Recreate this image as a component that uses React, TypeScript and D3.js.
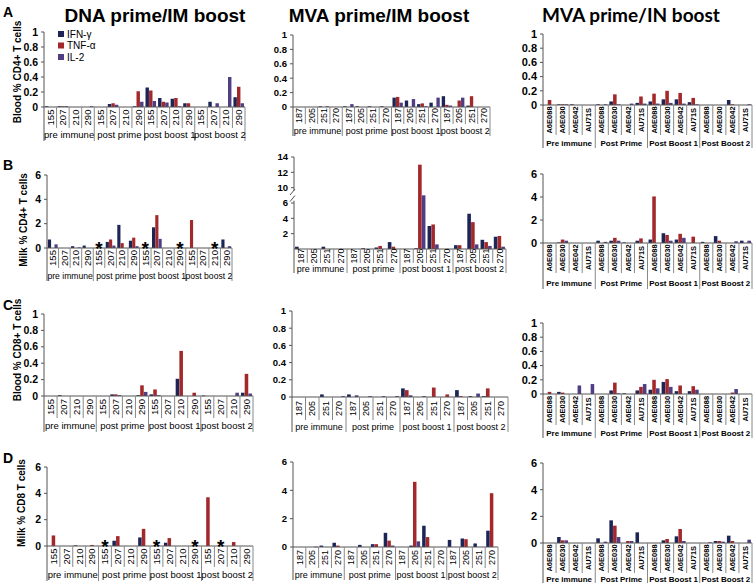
import React from 'react'
import * as d3 from 'd3'

// cytokine series, in bar order inside each animal
const cytokines = ['IFN-γ', 'TNF-α', 'IL-2']
const colors = ['#1c2555', '#a3282b', '#4f3e84']

const dnaAnimals = ['155', '207', '210', '290']
const mvaAnimals = ['187', '205', '251', '270']
const inAnimals = ['A6E088', 'A6E030', 'A6E042', 'AU71S']
const timepoints = ['pre immune', 'post prime', 'post boost 1', 'post boost 2']
const timepointsCap = ['Pre immune', 'Post Prime', 'Post Boost 1', 'Post Boost 2']

// values are [IFN-γ, TNF-α, IL-2] per animal, 4 animals x 4 timepoints
const dnaBloodCD4 = [
  [0.01, 0, 0], [0.01, 0.01, 0.01], [0, 0, 0], [0, 0, 0.01],
  [0, 0, 0], [0.04, 0.05, 0.03], [0, 0, 0], [0.01, 0.21, 0.07],
  [0.26, 0.22, 0.08], [0.12, 0.07, 0.06], [0.11, 0.12, 0.01], [0.05, 0.05, 0],
  [0, 0, 0], [0.07, 0, 0.05], [0, 0, 0.4], [0.13, 0.27, 0.05],
]
const dnaMilkCD4 = [
  [0.7, 0, 0.3], [0, 0, 0], [0.15, 0, 0.05], [0.2, 0, 0],
  [0, 0, 0], [0.5, 0.7, 0.2], [1.9, 0.4, 0], [0.6, 0.85, 0.15],
  [0, 0, 0], [1.7, 2.7, 0.75], [0, 0, 0], [0, 0, 0],
  [0, 2.3, 0], [0, 0, 0], [0, 0, 0], [0.7, 0, 0.15],
]
const dnaBloodCD8 = [
  [0, 0, 0], [0.01, 0, 0], [0, 0, 0], [0, 0, 0],
  [0, 0, 0], [0.02, 0.02, 0.01], [0, 0, 0], [0.01, 0.13, 0.05],
  [0.02, 0.08, 0.01], [0, 0, 0], [0.21, 0.55, 0], [0, 0.04, 0],
  [0.005, 0, 0], [0, 0, 0], [0, 0, 0.04], [0.04, 0.27, 0.03],
]
const dnaMilkCD8 = [
  [0, 0.8, 0], [0, 0, 0], [0.05, 0, 0], [0, 0.08, 0],
  [0, 0, 0], [0.4, 0.75, 0], [0, 0, 0], [0.65, 1.3, 0],
  [0, 0, 0], [0.25, 0.6, 0], [0, 0, 0], [0, 0, 0],
  [0, 3.7, 0], [0, 0, 0], [0, 0.3, 0], [0, 0, 0],
]
const mvaBloodCD4 = [
  [0, 0, 0], [0, 0, 0], [0.01, 0, 0.01], [0, 0, 0],
  [0.01, 0, 0.04], [0.01, 0, 0], [0.01, 0, 0], [0.01, 0, 0],
  [0.13, 0.14, 0.06], [0.09, 0, 0.11], [0.04, 0.05, 0.01], [0.06, 0, 0.13],
  [0.15, 0.03, 0.02], [0, 0.09, 0.13], [0.02, 0.15, 0], [0, 0, 0],
]
const mvaMilkCD4 = [
  [0.3, 0, 0], [0, 0, 0], [0.3, 0, 0], [0, 0, 0],
  [0, 0, 0], [0.1, 0, 0], [0.2, 0.4, 0], [0.9, 0.3, 0],
  [0, 0, 0], [0.1, 13, 8], [3.0, 3.2, 0.6], [0, 0, 0],
  [0.5, 0.5, 0], [4.6, 3.5, 0.6], [1.2, 0.9, 0.4], [1.6, 1.7, 0.3],
]
const mvaBloodCD8 = [
  [0, 0, 0], [0, 0, 0], [0.03, 0, 0], [0, 0, 0.01],
  [0.03, 0, 0.02], [0, 0, 0.01], [0, 0, 0.01], [0, 0, 0.01],
  [0.1, 0.08, 0.02], [0, 0, 0.01], [0, 0.11, 0], [0, 0.03, 0],
  [0.08, 0.01, 0], [0.01, 0, 0.04], [0.01, 0.1, 0], [0, 0, 0],
]
const mvaMilkCD8 = [
  [0, 0, 0], [0, 0, 0.02], [0.1, 0, 0], [0.3, 0.1, 0],
  [0, 0, 0], [0.15, 0, 0], [0.2, 0.2, 0], [1.0, 0.45, 0.1],
  [0, 0, 0], [0.1, 4.6, 0.4], [1.5, 0.7, 0], [0, 0, 0],
  [0.5, 0, 0], [0.6, 0.55, 0], [0.25, 0, 0], [1.15, 3.8, 0],
]
const inBloodCD4 = [
  [0, 0.07, 0], [0.01, 0.01, 0.01], [0.01, 0, 0], [0, 0, 0],
  [0.01, 0, 0.01], [0.05, 0.15, 0.01], [0, 0, 0.02], [0.03, 0.12, 0.02],
  [0.05, 0.16, 0.02], [0.08, 0.2, 0.03], [0.08, 0.17, 0.02], [0.04, 0.1, 0.01],
  [0, 0, 0], [0, 0, 0], [0.07, 0.01, 0], [0, 0, 0.01],
]
const inMilkCD4 = [
  [0, 0, 0], [0.05, 0.3, 0.2], [0, 0, 0], [0, 0, 0],
  [0.2, 0, 0.1], [0.2, 0.45, 0.2], [0.05, 0, 0], [0.2, 0.4, 0],
  [0.3, 4.05, 0], [0.85, 0.7, 0.2], [0.3, 0.8, 0.45], [0, 0.55, 0],
  [0.1, 0, 0], [0.6, 0.2, 0], [0, 0, 0.15], [0.2, 0, 0.2],
]
const inBloodCD8 = [
  [0, 0.03, 0], [0.03, 0.02, 0], [0, 0, 0.12], [0, 0, 0.14],
  [0, 0, 0], [0.05, 0.16, 0.01], [0.01, 0, 0], [0.05, 0.1, 0.14],
  [0.06, 0.2, 0.08], [0.17, 0.21, 0.1], [0.04, 0.12, 0], [0.04, 0.11, 0.06],
  [0, 0, 0], [0, 0, 0], [0, 0.02, 0.07], [0, 0, 0],
]
const inMilkCD8 = [
  [0, 0, 0], [0.45, 0.2, 0.2], [0, 0, 0], [0, 0, 0],
  [0.35, 0, 0.1], [1.7, 1.3, 0.45], [0, 0.15, 0.15], [0.8, 0, 0],
  [0, 0, 0], [0.2, 0.3, 0], [0.5, 1.05, 0.15], [0, 0, 0],
  [0, 0, 0.05], [0.15, 0.15, 0.1], [0.55, 0.15, 0], [0, 0, 0.25],
]

// cells marked with an asterisk (no sample)
const dnaMilkCD4Missing = [4, 8, 11, 14]
const dnaMilkCD8Missing = [4, 8, 11, 13]

const ticksFraction = [0, 0.2, 0.4, 0.6, 0.8, 1]
const ticksPercent = [0, 2, 4, 6]
const ticksBroken = [2, 4, 6, 10, 12, 14]

const FONT = 'Liberation Sans, Arial, sans-serif'

type Cfg = {
  data: number[][]
  animals: string[]
  groups: string[]
  x0: number
  x1: number
  yTop: number
  y0: number
  ticks: number[]
  max: number
  labBottom: number
  groupY: number
  groupBottom: number
  tickFont: number
  catFont: number
  groupFont: number
  bold?: boolean
  broken?: boolean
  missing?: number[]
}

const Panel = ({ c }: { c: Cfg }) => {
  const n = c.animals.length * c.groups.length
  const x = d3.scaleBand<number>().domain(d3.range(n)).range([c.x0, c.x1])
  const w = x.bandwidth()
  const inner = d3
    .scaleBand<number>()
    .domain([0, 1, 2])
    .range([w * 0.08, w * 0.92])
    .paddingInner(0.04)

  let y: d3.ScaleLinear<number, number>
  if (c.broken) {
    const u = (c.y0 - c.yTop) / 12
    y = d3
      .scaleLinear()
      .domain([0, 6, 10, 14])
      .range([c.y0, c.y0 - 6 * u, c.y0 - 8 * u, c.y0 - 12 * u])
  } else {
    y = d3.scaleLinear().domain([0, c.max]).range([c.y0, c.yTop])
  }
  const labMid = (c.y0 + c.labBottom) / 2
  const per = c.animals.length
  const gw = w * per
  const weight = c.bold ? 'bold' : 'normal'

  return (
    <g fontFamily={FONT}>
      {/* bars */}
      {c.data.map((d, i) =>
        d.map((v, k) =>
          v > 0 ? (
            <rect
              key={`${i}-${k}`}
              x={(x(i) as number) + (inner(k) as number)}
              y={y(v)}
              width={inner.bandwidth()}
              height={Math.max(0.6, c.y0 - y(v))}
              fill={colors[k]}
            />
          ) : null
        )
      )}
      {/* y axis */}
      {c.broken ? (
        <g stroke="#555" strokeWidth={1}>
          <line x1={c.x0} x2={c.x0} y1={y(14)} y2={y(9.2)} />
          <line x1={c.x0} x2={c.x0} y1={y(6.6)} y2={c.groupBottom} />
          <line x1={c.x0 - 4} x2={c.x0 + 1} y1={y(6.9) + 2} y2={y(6.9) - 4} />
          <line x1={c.x0 - 4} x2={c.x0 + 1} y1={y(8.6) + 2} y2={y(8.6) - 4} />
        </g>
      ) : (
        <line x1={c.x0} x2={c.x0} y1={c.yTop} y2={c.groupBottom} stroke="#555" />
      )}
      {c.ticks.map((t) => (
        <g key={t}>
          <line x1={c.x0 - 3} x2={c.x0} y1={y(t)} y2={y(t)} stroke="#555" />
          <text
            x={c.x0 - 6}
            y={y(t)}
            dy="0.35em"
            textAnchor="end"
            fontSize={c.tickFont}
            fontWeight="bold"
          >
            {+t.toFixed(1)}
          </text>
        </g>
      ))}
      {/* category axis */}
      <line x1={c.x0} x2={c.x1} y1={c.y0} y2={c.y0} stroke="#555" />
      {d3.range(n).map((i) => (
        <g key={i}>
          <line
            x1={(x(i) as number) + w}
            x2={(x(i) as number) + w}
            y1={c.y0}
            y2={(i + 1) % per === 0 ? c.groupBottom : c.labBottom}
            stroke="#888"
          />
          <text
            transform={`translate(${(x(i) as number) + w / 2},${labMid}) rotate(-90)`}
            dy="0.35em"
            textAnchor="middle"
            fontSize={c.catFont}
            fontWeight={weight}
          >
            {c.animals[i % per]}
          </text>
        </g>
      ))}
      {c.groups.map((g, j) => (
        <text
          key={g}
          x={c.x0 + gw * j + gw / 2}
          y={c.groupY}
          textAnchor="middle"
          fontSize={c.groupFont}
          fontWeight={weight}
        >
          {g}
        </text>
      ))}
      {(c.missing || []).map((i) => (
        <text
          key={'m' + i}
          x={(x(i) as number) + w / 2}
          y={c.y0 + 7}
          textAnchor="middle"
          fontSize={19}
          fontWeight="bold"
        >
          *
        </text>
      ))}
    </g>
  )
}

const col1 = { animals: dnaAnimals, groups: timepoints, tickFont: 10.5, catFont: 9.5, groupFont: 9.5 }
const col2 = { animals: mvaAnimals, groups: timepoints, tickFont: 9.5, catFont: 9, groupFont: 9 }
const col3 = { animals: inAnimals, groups: timepointsCap, tickFont: 11, catFont: 7.5, groupFont: 8, bold: true }

const panels: Cfg[] = [
  { ...col1, data: dnaBloodCD4, x0: 44, x1: 245, yTop: 32, y0: 107, ticks: ticksFraction, max: 1, labBottom: 128, groupY: 138, groupBottom: 141 },
  { ...col1, data: dnaMilkCD4, x0: 47, x1: 232, yTop: 175, y0: 248, ticks: ticksPercent, max: 6, labBottom: 268, groupY: 279, groupBottom: 281, groupFont: 8.6, missing: dnaMilkCD4Missing },
  { ...col1, data: dnaBloodCD8, x0: 44, x1: 253, yTop: 314, y0: 396, ticks: ticksFraction, max: 1, labBottom: 418, groupY: 429, groupBottom: 432 },
  { ...col1, data: dnaMilkCD8, x0: 47, x1: 253, yTop: 467, y0: 546, ticks: ticksPercent, max: 6, labBottom: 567, groupY: 578, groupBottom: 581, missing: dnaMilkCD8Missing },
  { ...col2, data: mvaBloodCD4, x0: 293, x1: 490, yTop: 35, y0: 107, ticks: ticksFraction, max: 1, labBottom: 124, groupY: 134, groupBottom: 136 },
  { ...col2, data: mvaMilkCD4, x0: 294, x1: 506, yTop: 157, y0: 249, ticks: ticksBroken, max: 14, labBottom: 263, groupY: 272, groupBottom: 273, broken: true },
  { ...col2, data: mvaBloodCD8, x0: 292, x1: 508, yTop: 311, y0: 397, ticks: ticksFraction, max: 1, labBottom: 420, groupY: 430, groupBottom: 432 },
  { ...col2, data: mvaMilkCD8, x0: 293, x1: 498, yTop: 462, y0: 547, ticks: ticksPercent, max: 6, labBottom: 568, groupY: 578, groupBottom: 580 },
  { ...col3, data: inBloodCD4, x0: 543, x1: 752, yTop: 34, y0: 105, ticks: ticksFraction, max: 1, labBottom: 135, groupY: 146, groupBottom: 148 },
  { ...col3, data: inMilkCD4, x0: 543, x1: 752, yTop: 174, y0: 243, ticks: ticksPercent, max: 6, labBottom: 273, groupY: 286, groupBottom: 289 },
  { ...col3, data: inBloodCD8, x0: 543, x1: 752, yTop: 323, y0: 394, ticks: ticksFraction, max: 1, labBottom: 425, groupY: 436, groupBottom: 438 },
  { ...col3, data: inMilkCD8, x0: 543, x1: 752, yTop: 463, y0: 543, ticks: ticksPercent, max: 6, labBottom: 573, groupY: 582, groupBottom: 583 },
]

const yLabels = [
  { text: 'Blood % CD4+ T cells', x: 17, y: 72 },
  { text: 'Milk % CD4+ T cells', x: 23, y: 220 },
  { text: 'Blood % CD8+ T cells', x: 17, y: 350 },
  { text: 'Milk % CD8 T cells', x: 21, y: 503 },
]
const letters = [
  { t: 'A', y: 17 },
  { t: 'B', y: 170 },
  { t: 'C', y: 310 },
  { t: 'D', y: 463 },
]
const titles = [
  { t: 'DNA prime/IM boost', x: 155, font: FONT },
  { t: 'MVA prime/IM boost', x: 379, font: FONT },
  { t: 'MVA prime/IN boost', x: 631, font: 'Lato, Open Sans, sans-serif' },
]

export default function App() {
  return (
    <svg
      width={754}
      height={583}
      style={{ position: 'absolute', left: 0, top: 0, background: '#fff' }}
    >
      {titles.map((d) => (
        <text key={d.t} x={d.x} y={22} textAnchor="middle" fontFamily={d.font} fontWeight="bold" fontSize={19}>
          {d.t}
        </text>
      ))}
      {letters.map((d) => (
        <text key={d.t} x={3} y={d.y} fontFamily={FONT} fontWeight="bold" fontSize={14}>
          {d.t}
        </text>
      ))}
      {yLabels.map((d) => (
        <text
          key={d.text}
          transform={`translate(${d.x},${d.y}) rotate(-90)`}
          dy="0.35em"
          textAnchor="middle"
          fontFamily={FONT}
          fontWeight="bold"
          fontSize={10}
        >
          {d.text}
        </text>
      ))}
      {panels.map((c, i) => (
        <Panel key={i} c={c} />
      ))}
      {/* legend */}
      <g fontFamily={FONT} fontSize={10}>
        {cytokines.map((name, k) => (
          <g key={name} transform={`translate(58,${34 + k * 11.5})`}>
            <rect x={0} y={-3} width={6} height={6} fill={colors[k]} />
            <text x={9} dy="0.35em">
              {name}
            </text>
          </g>
        ))}
      </g>
    </svg>
  )
}
